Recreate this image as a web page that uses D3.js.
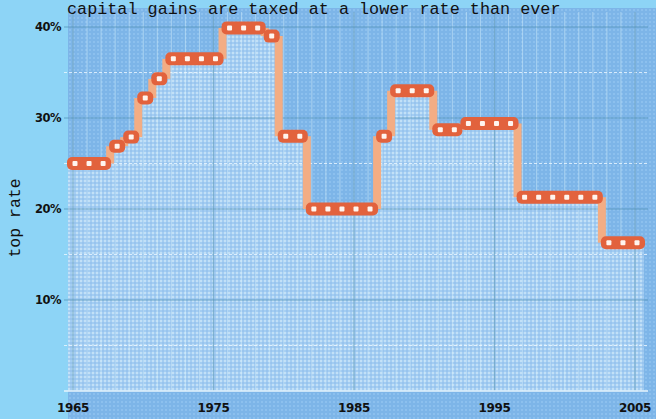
<!DOCTYPE html>
<html>
<head>
<meta charset="utf-8">
<script src="https://cdn.jsdelivr.net/npm/d3@7"></script>
<style>
  body { margin: 0; background: #8dd4f6; }
  svg { display: block; }
</style>
</head>
<body>
<div id="chart"></div>
<script>
const width = 656;
const height = 419;

// top capital gains rate by year
const years = [1965, 1966, 1967, 1968, 1969, 1970, 1971, 1972, 1973, 1974, 1975,
  1976, 1977, 1978, 1979, 1980, 1981, 1982, 1983, 1984, 1985, 1986, 1987,
  1988, 1989, 1990, 1991, 1992, 1993, 1994, 1995, 1996, 1997, 1998, 1999,
  2000, 2001, 2002, 2003, 2004, 2005];
const rates = [25, 25, 25, 26.9, 27.9, 32.2, 34.3, 36.5, 36.5, 36.5, 36.5,
  39.9, 39.9, 39.9, 39.0, 28, 28, 20, 20, 20, 20, 20, 28,
  33, 33, 33, 28.7, 28.7, 29.4, 29.4, 29.4, 29.4, 21.3, 21.3, 21.3,
  21.3, 21.3, 21.3, 16.3, 16.3, 16.3];
const yearTicks = [1965, 1975, 1985, 1995, 2005];
const rateTicks = [10, 20, 30, 40];
const minorRates = [5, 15, 25, 35];
const title = 'capital gains are taxed at a lower rate than ever';
const yTitle = 'top rate';

const data = years.map((y, i) => ({year: y, rate: rates[i]}));

const x = d3.scaleLinear().domain([1965, 2005]).range([75, 637]);
const y = d3.scaleLinear().domain([0, 40]).range([391, 27]);

const svg = d3.select('#chart').append('svg')
  .attr('width', width)
  .attr('height', height);

const defs = svg.append('defs');
// dotted screen texture for the panel
const pat = defs.append('pattern')
  .attr('id', 'panelTex')
  .attr('width', 4).attr('height', 4)
  .attr('patternUnits', 'userSpaceOnUse');
pat.append('rect').attr('width', 4).attr('height', 4).attr('fill', '#7db5e8');
pat.append('rect').attr('x', 1).attr('y', 1).attr('width', 2).attr('height', 2).attr('fill', '#8cc0ee');

const pat2 = defs.append('pattern')
  .attr('id', 'areaTex')
  .attr('width', 4).attr('height', 4)
  .attr('patternUnits', 'userSpaceOnUse');
pat2.append('rect').attr('width', 4).attr('height', 4).attr('fill', '#a3cdf2');
pat2.append('rect').attr('x', 0).attr('y', 0).attr('width', 2).attr('height', 2).attr('fill', '#c2e0f7');
pat2.append('rect').attr('x', 2).attr('y', 2).attr('width', 2).attr('height', 2).attr('fill', '#98c4ee');

// panel
svg.append('rect')
  .attr('x', 68).attr('y', 8)
  .attr('width', width - 68).attr('height', height - 8)
  .attr('fill', 'url(#panelTex)');

// area under the step line
const area = d3.area()
  .x(d => d.x)
  .y0(y(0))
  .y1(d => d.y)
  .curve(d3.curveStep);

const areaPts = [{x: x(1964.5), y: y(rates[0])}]
  .concat(data.map(d => ({x: x(d.year), y: y(d.rate)})))
  .concat([{x: x(2005.5), y: y(rates[rates.length - 1])}]);

svg.append('path')
  .datum(areaPts)
  .attr('d', area)
  .attr('fill', 'url(#areaTex)');

// yearly faint vertical lines
svg.append('g')
  .selectAll('line')
  .data(d3.range(1965, 2006))
  .join('line')
  .attr('x1', d => x(d) - 2).attr('x2', d => x(d) - 2)
  .attr('y1', 12).attr('y2', y(0))
  .attr('stroke', '#d6f0fb')
  .attr('stroke-opacity', 0.5)
  .attr('stroke-width', 1);

// minor horizontal dashed lines
svg.append('g')
  .selectAll('line')
  .data(minorRates)
  .join('line')
  .attr('x1', 64).attr('x2', 648)
  .attr('y1', d => y(d)).attr('y2', d => y(d))
  .attr('stroke', '#eef8ff')
  .attr('stroke-width', 1)
  .attr('stroke-dasharray', '3,2')
  .attr('stroke-opacity', 0.8);

// major grid
svg.append('g')
  .selectAll('line')
  .data(rateTicks)
  .join('line')
  .attr('x1', 64).attr('x2', 648)
  .attr('y1', d => y(d)).attr('y2', d => y(d))
  .attr('stroke', '#4f8eb4')
  .attr('stroke-width', 1.2)
  .attr('stroke-opacity', 0.7);

svg.append('g')
  .selectAll('line')
  .data(yearTicks)
  .join('line')
  .attr('x1', d => x(d) - 2).attr('x2', d => x(d) - 2)
  .attr('y1', 12).attr('y2', y(0))
  .attr('stroke', '#4f8eb4')
  .attr('stroke-width', 1.2)
  .attr('stroke-opacity', 0.6);

// bottom white baseline
svg.append('line')
  .attr('x1', 64).attr('x2', 648)
  .attr('y1', y(0)).attr('y2', y(0))
  .attr('stroke', '#e6f4fc')
  .attr('stroke-width', 1.5);

// step connectors (vertical risers)
const risers = [];
for (let i = 1; i < data.length; i++) {
  if (data[i].rate !== data[i - 1].rate) {
    risers.push({xm: (x(data[i].year) + x(data[i - 1].year)) / 2, a: data[i - 1].rate, b: data[i].rate});
  }
}
svg.append('g')
  .selectAll('line')
  .data(risers)
  .join('line')
  .attr('x1', d => d.xm).attr('x2', d => d.xm)
  .attr('y1', d => y(d.a)).attr('y2', d => y(d.b))
  .attr('stroke', '#f3ad84')
  .attr('stroke-width', 8);

// runs of equal rate -> rounded red bars
const runs = [];
data.forEach((d, i) => {
  const last = runs[runs.length - 1];
  if (last && last.rate === d.rate) last.end = d.year;
  else runs.push({rate: d.rate, start: d.year, end: d.year});
});

svg.append('g')
  .selectAll('rect')
  .data(runs)
  .join('rect')
  .attr('x', d => x(d.start) - 8)
  .attr('width', d => x(d.end) - x(d.start) + 16)
  .attr('y', d => y(d.rate) - 6.5)
  .attr('height', 13)
  .attr('rx', 5)
  .attr('fill', '#e2623d');

// white dots
svg.append('g')
  .selectAll('rect')
  .data(data)
  .join('rect')
  .attr('x', d => x(d.year) - 2.5)
  .attr('y', d => y(d.rate) - 2.5)
  .attr('width', 5).attr('height', 5)
  .attr('rx', 1)
  .attr('fill', '#fff4ee');

// tick labels
svg.append('g')
  .selectAll('text')
  .data(rateTicks)
  .join('text')
  .attr('x', 61)
  .attr('y', d => y(d) + 4)
  .attr('text-anchor', 'end')
  .attr('font-family', 'DejaVu Sans')
  .attr('font-weight', 'bold')
  .attr('font-size', 11.5)
  .attr('letter-spacing', -0.5)
  .attr('fill', '#111')
  .text(d => d + '%');

svg.append('g')
  .selectAll('text')
  .data(yearTicks)
  .join('text')
  .attr('x', d => x(d) - 2)
  .attr('y', 412)
  .attr('text-anchor', 'middle')
  .attr('font-family', 'DejaVu Sans')
  .attr('font-weight', 'bold')
  .attr('font-size', 12)
  .attr('letter-spacing', -0.3)
  .attr('fill', '#111')
  .text(d => d);

// titles
svg.append('text')
  .attr('x', 67)
  .attr('y', 14)
  .attr('font-family', 'Liberation Mono, monospace')
  .attr('font-size', 16.8)
  .attr('fill', '#111')
  .text(title);

svg.append('text')
  .attr('transform', 'translate(20,218) rotate(-90)')
  .attr('text-anchor', 'middle')
  .attr('font-family', 'Liberation Mono, monospace')
  .attr('font-size', 16.5)
  .attr('fill', '#111')
  .text(yTitle);
</script>
</body>
</html>
